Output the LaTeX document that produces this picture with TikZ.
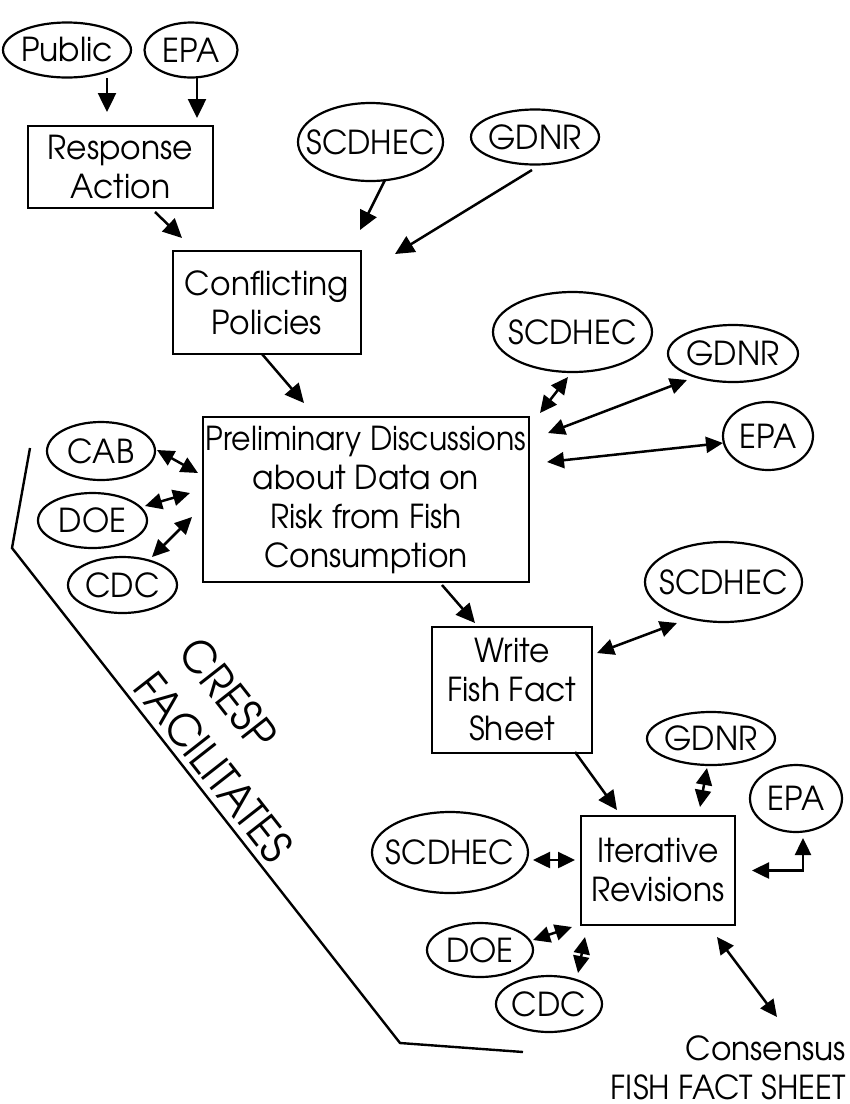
\documentclass[tikz,border=0pt]{standalone}
\usepackage{fontspec}
\usepackage{graphicx}
\setmainfont{TeX Gyre Adventor}[FakeStretch=0.95]
\usetikzlibrary{arrows.meta,shapes.geometric}
\tikzset{
  oval/.style 2 args={ellipse, draw, line width=2.2pt, minimum width=#1, minimum height=#2, inner sep=0pt},
  boxnode/.style 2 args={rectangle, draw, line width=2.2pt, minimum width=#1, minimum height=#2, inner sep=0pt, align=center},
  arr/.style={line width=2.5pt, -{Triangle[length=19pt,width=18pt]}},
  darr/.style={line width=2.5pt, {Triangle[length=17pt,width=16pt]}-{Triangle[length=17pt,width=16pt]}},
  bigtext/.style={font=\fontsize{44}{57}\selectfont, inner sep=0pt, rotate=-51.9, anchor=south west, align=left},
}
\begin{document}
\begin{tikzpicture}[x=1pt,y=-1pt,font=\fontsize{33}{39}\selectfont]
\useasboundingbox[fill=white] (0,0) rectangle (850,1104);
% top
\node[oval={128pt}{55pt}, label=center:Public] (Public) at (67,50) {};
\node[oval={93pt}{55pt}, label=center:EPA] (EPAa) at (191,50) {};
\node[boxnode={185pt}{82pt}] (Resp) at (120.5,167) {Response\\Action};
\node[oval={145pt}{78pt}, label=center:SCDHEC] (SCa) at (370.5,142) {};
\node[oval={128pt}{55pt}, label=center:GDNR] (GDa) at (535,137) {};
\node[boxnode={188pt}{103pt}] (Conf) at (267,302.5) {Conflicting\\Policies};
% preliminary
\node[boxnode={326pt}{165pt}] (Prel) at (366,499.5) {\scalebox{0.955}[1]{Preliminary Discussions}\\about Data on\\Risk from Fish\\Consumption};
\node[oval={159pt}{80pt}, label=center:SCDHEC] (SCb) at (572.5,332) {};
\node[oval={130pt}{57pt}, label=center:GDNR] (GDb) at (733,353.5) {};
\node[oval={90pt}{68pt}, label=center:EPA] (EPAb) at (768,436) {};
\node[oval={108pt}{58pt}, label=center:CAB] (CAB) at (101,451) {};
\node[oval={109pt}{55pt}, label=center:DOE] (DOEa) at (92.5,520.5) {};
\node[oval={109pt}{56pt}, label=center:CDC] (CDCa) at (122.5,585) {};
% write
\node[boxnode={160pt}{126pt}] (Write) at (512,690) {Write\\Fish Fact\\Sheet};
\node[oval={157pt}{80pt}, label=center:SCDHEC] (SCc) at (723.5,582) {};
% iterative
\node[boxnode={154pt}{109pt}] (Iter) at (658,870.5) {Iterative\\Revisions};
\node[oval={128pt}{53pt}, label=center:GDNR] (GDc) at (711,738.5) {};
\node[oval={92pt}{67pt}, label=center:EPA] (EPAc) at (796,798.5) {};
\node[oval={156pt}{81pt}, label=center:SCDHEC] (SCd) at (450,852.5) {};
\node[oval={106pt}{54pt}, label=center:DOE] (DOEb) at (480,950) {};
\node[oval={106pt}{56pt}, label=center:CDC] (CDCb) at (549,1004) {};
\node[inner sep=0pt, anchor=base east] (consA) at (846,1060) {Consensus};
\node[inner sep=0pt, anchor=base east] (consB) at (846,1099) {FISH FACT SHEET};
% CRESP facilitates
\node[bigtext] (cresp) at (131,689) {CRESP\\FACILITATES};
\draw[line width=2.4pt, line join=miter] (30,448) -- (12,548) -- (400,1043) -- (523,1052);
% arrows
\draw[arr] ([shift={(40,28)}]Public.center) -- ([shift={(-13.5,-55)}]Resp.center);
\draw[arr] ([shift={(6,28)}]EPAa.center) -- ([shift={(76.5,-49)}]Resp.center);
\draw[arr] ([shift={(34.5,45)}]Resp.center) -- ([shift={(-85,-64.5)}]Conf.center);
\draw[arr] ([shift={(14.5,38)}]SCa.center) -- ([shift={(93,-72.5)}]Conf.center);
\draw[arr] ([shift={(-3,33)}]GDa.center) -- ([shift={(128,-48.5)}]Conf.center);
\draw[arr] ([shift={(-5,51.5)}]Conf.center) -- ([shift={(-62,-96.5)}]Prel.center);
\draw[darr] ([shift={(-4.5,45)}]SCb.center) -- ([shift={(174,-86.5)}]Prel.center);
\draw[darr] ([shift={(-46,26.5)}]GDb.center) -- ([shift={(182,-66.5)}]Prel.center);
\draw[darr] ([shift={(-45,7)}]EPAb.center) -- ([shift={(181,-37.5)}]Prel.center);
\draw[darr] ([shift={(56,-1)}]CAB.center) -- ([shift={(-168,-26.5)}]Prel.center);
\draw[darr] ([shift={(52.5,-14.5)}]DOEa.center) -- ([shift={(-176,-6.5)}]Prel.center);
\draw[darr] ([shift={(29.5,-28)}]CDCa.center) -- ([shift={(-174,17.5)}]Prel.center);
\draw[arr] ([shift={(76,85.5)}]Prel.center) -- ([shift={(-37,-67)}]Write.center);
\draw[darr] ([shift={(85,-37)}]Write.center) -- ([shift={(-46.5,41)}]SCc.center);
\draw[arr] ([shift={(63,62)}]Write.center) -- ([shift={(-41,-60.5)}]Iter.center);
\draw[darr] ([shift={(-4,29.5)}]GDc.center) -- ([shift={(42,-63.5)}]Iter.center);
\draw[darr] ([shift={(94,0)}]Iter.center) -| ([shift={(7,39.5)}]EPAc.center);
\draw[darr] ([shift={(83,7.5)}]SCd.center) -- ([shift={(-83,-10.5)}]Iter.center);
\draw[darr] ([shift={(53,-10)}]DOEb.center) -- ([shift={(-86,56.5)}]Iter.center);
\draw[darr] ([shift={(29,-31)}]CDCb.center) -- ([shift={(-73,66.5)}]Iter.center);
\draw[darr] ([shift={(59,66.5)}]Iter.center) -- ([shift={(-69,-43)}]consA.base east);
\end{tikzpicture}
\end{document}
